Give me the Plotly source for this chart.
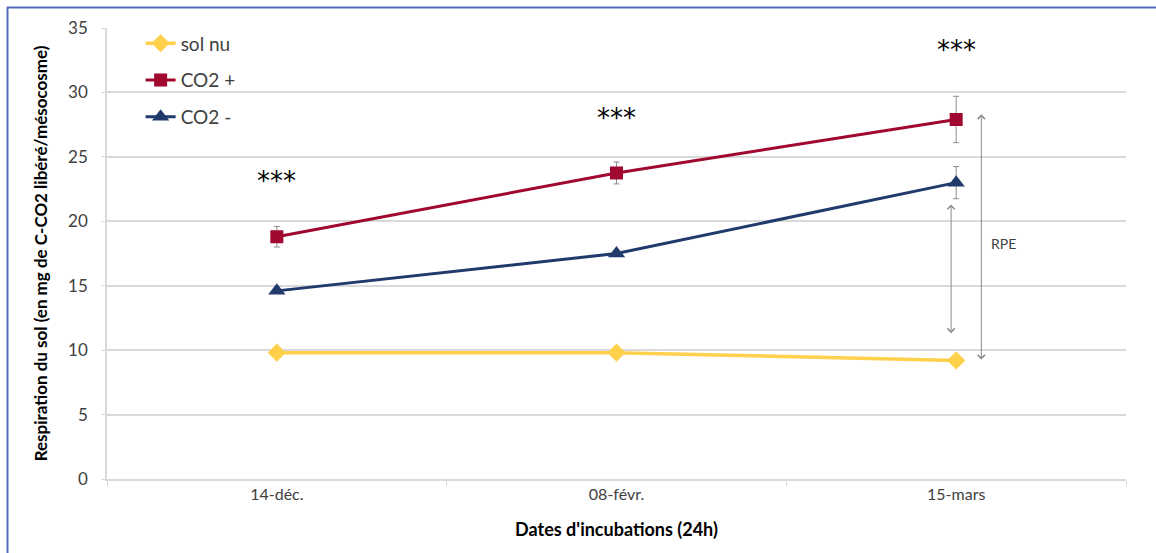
import plotly.graph_objects as go

# Incubation dates (categories) and soil respiration values
dates = ["14-déc.", "08-févr.", "15-mars"]
sol_nu = [9.8, 9.8, 9.2]
co2_plus = [18.8, 23.75, 27.9]
co2_plus_err = [0.8, 0.85, 1.8]
co2_minus = [14.6, 17.5, 23.0]
co2_minus_err = [0.0, 0.0, 1.25]

# Significance markers above each date
signif_labels = ["***", "***", "***"]
signif_y = [23.1, 28.0, 33.3]

y_ticks = [0, 5, 10, 15, 20, 25, 30, 35]

W, H = 1156, 553
L, R, T, B = 107, 30, 28, 74
plot_w = W - L - R
plot_h = H - T - B

GRID = "#d9d9d9"
TXT = "#404040"
FONT = "Lato"

fig = go.Figure()

fig.add_trace(go.Scatter(
    x=dates, y=sol_nu, name="sol nu", mode="lines+markers",
    line=dict(color="#ffd04a", width=3.5),
    marker=dict(symbol="diamond", size=14, color="#ffd04a"),
    legendgroup="a",
))
fig.add_trace(go.Scatter(
    x=dates, y=co2_plus, name="CO2 +", mode="lines+markers",
    line=dict(color="#a0082f", width=3),
    marker=dict(symbol="square", size=13, color="#a0082f"),
    error_y=dict(type="data", array=co2_plus_err, visible=True,
                 color="#8c8c8c", thickness=1, width=3),
    legendgroup="b",
))
fig.add_trace(go.Scatter(
    x=dates, y=co2_minus, name="CO2 -", mode="lines+markers",
    line=dict(color="#1f3a6b", width=3),
    marker=dict(symbol="triangle-up", size=15, color="#1f3a6b"),
    error_y=dict(type="data", array=co2_minus_err, visible=True,
                 color="#8c8c8c", thickness=1, width=3),
    legendgroup="c",
))

annotations = []
for i, (lab, yv) in enumerate(zip(signif_labels, signif_y)):
    annotations.append(dict(
        x=i, y=yv, xref="x", yref="y", text=lab, showarrow=False,
        font=dict(family="DejaVu Sans", size=26, color="black"),
    ))

# Double-headed arrows marking the priming effect at the last date
for x0, y_top, y_bot in [(1.985, 21.3, 11.2), (2.074, 28.3, 9.15)]:
    annotations.append(dict(
        x=x0, y=y_top, ax=x0, ay=y_bot, xref="x", yref="y",
        axref="x", ayref="y", text="", showarrow=True,
        arrowhead=4, startarrowhead=4, arrowside="end+start",
        arrowsize=1.4, startarrowsize=1.4,
        arrowwidth=1, arrowcolor="#8a8a8a",
    ))
annotations.append(dict(
    x=2.14, y=18.3, xref="x", yref="y", text="RPE", showarrow=False,
    font=dict(family=FONT, size=14, color=TXT),
))

# Frame lines on the left and top of the figure
def px_x(px):
    return (px - L) / plot_w

def px_y(py):
    return (H - B - py) / plot_h

shapes = [
    dict(type="line", xref="paper", yref="paper",
         x0=px_x(7.5), x1=px_x(7.5), y0=px_y(7), y1=px_y(553),
         line=dict(color="#4f6cb5", width=2)),
    dict(type="line", xref="paper", yref="paper",
         x0=px_x(7), x1=px_x(1156), y0=px_y(7.5), y1=px_y(7.5),
         line=dict(color="#4f6cb5", width=2)),
]

fig.update_layout(
    width=W, height=H,
    margin=dict(l=L, r=R, t=T, b=B),
    paper_bgcolor="white", plot_bgcolor="white",
    showlegend=True,
    legend=dict(
        x=0.033, y=1.008, xanchor="left", yanchor="top",
        bgcolor="rgba(0,0,0,0)",
        font=dict(family=FONT, size=19, color=TXT),
        tracegroupgap=9, itemwidth=30,
    ),
    annotations=annotations,
    shapes=shapes,
    xaxis=dict(
        type="category", range=[-0.5, 2.5],
        tickson="boundaries", ticks="outside", ticklen=5, tickcolor=GRID,
        showline=True, linecolor=GRID, linewidth=1.5,
        showgrid=False, zeroline=False,
        tickfont=dict(family=FONT, size=16, color=TXT),
        title=dict(text="<b>Dates d'incubations (24h)</b>", standoff=21,
                   font=dict(family=FONT, size=18, color="black")),
    ),
    yaxis=dict(
        range=[0, 35], tickvals=y_ticks,
        ticks="outside", ticklen=4, tickcolor=GRID,
        showline=True, linecolor=GRID, linewidth=1.5,
        showgrid=True, gridcolor=GRID, gridwidth=1.5, zeroline=False,
        tickfont=dict(family=FONT, size=17, color=TXT),
        ticklabelstandoff=10,
        title=dict(text="<b>Respiration du sol (en mg de C-CO2 libéré/mésocosme)</b>",
                   standoff=16,
                   font=dict(family=FONT, size=17, color="black")),
    ),
)

fig.write_html("out.html")
